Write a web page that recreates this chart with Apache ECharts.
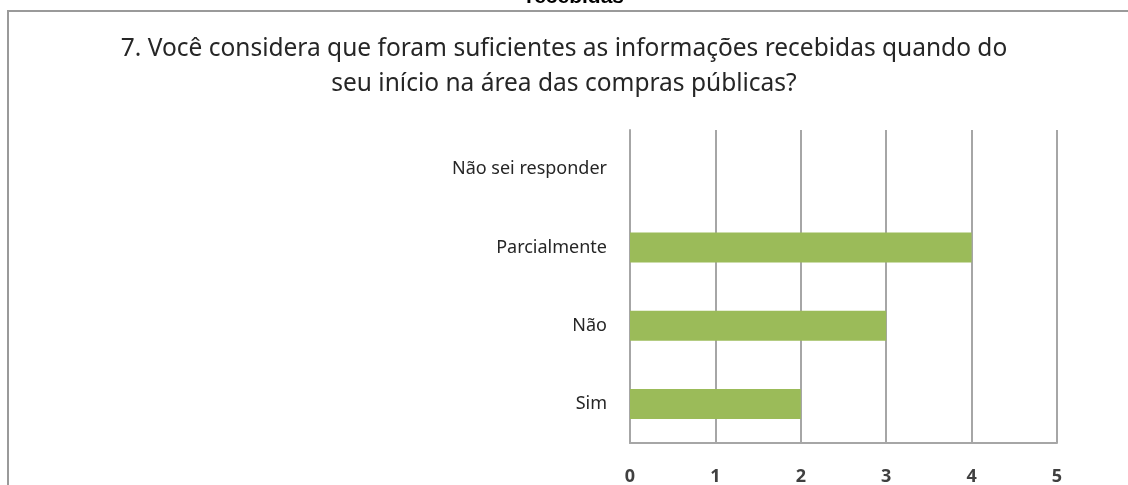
<!DOCTYPE html>
<html>
<head>
<meta charset="utf-8">
<script src="https://cdn.jsdelivr.net/npm/echarts@6/dist/echarts.min.js"></script>
<style>
  html, body { margin: 0; padding: 0; background: #fff; }
  #chart { width: 1128px; height: 485px; }
</style>
</head>
<body>
<div id="chart"></div>
<script>
  // dados
  var categorias = ['Sim', 'Não', 'Parcialmente', 'Não sei responder'];
  var respostas = [2, 3, 4, 0];
  var ticksX = [0, 1, 2, 3, 4, 5];
  var titulo = '7. Você considera que foram suficientes as informações recebidas quando do\nseu início na área das compras públicas?';
  var tituloAnterior = 'recebidas';

  var myChart = echarts.init(document.getElementById('chart'));
  var cinza = '#a6a6a6';

  var option = {
    backgroundColor: '#fff',
    animation: false,
    title: {
      text: titulo,
      left: 'center',
      top: 27,
      textStyle: {
        fontFamily: 'Noto Sans',
        fontSize: 24.5,
        fontWeight: 'normal',
        lineHeight: 35,
        color: '#262626'
      }
    },
    graphic: [
      // moldura cortada (linha superior e esquerda)
      { type: 'line', shape: { x1: 8, y1: 11, x2: 1128, y2: 11 }, style: { stroke: '#9a9a9a', lineWidth: 2 } },
      { type: 'line', shape: { x1: 8, y1: 10, x2: 8, y2: 485 }, style: { stroke: '#9a9a9a', lineWidth: 2 } },
      {
        type: 'text', x: 575, y: 8,
        style: {
          text: tituloAnterior, textAlign: 'center', textVerticalAlign: 'bottom',
          fontFamily: 'Liberation Sans', fontWeight: 'bold', fontSize: 21, fill: '#000'
        }
      }
    ],
    grid: { left: 630, right: 71, top: 130, bottom: 42, outerBoundsMode: 'none', containLabel: false },
    xAxis: {
      type: 'value',
      min: ticksX[0],
      max: ticksX[ticksX.length - 1],
      interval: 1,
      axisLine: { show: true, lineStyle: { color: cinza, width: 2 } },
      axisTick: { show: false },
      splitLine: { show: true, lineStyle: { color: cinza, width: 2 } },
      axisLabel: {
        margin: 25,
        fontFamily: 'Noto Sans',
        fontSize: 18,
        fontWeight: 'bold',
        color: '#404040'
      }
    },
    yAxis: {
      type: 'category',
      data: categorias,
      axisLine: { show: true, lineStyle: { color: cinza, width: 2 } },
      axisTick: { show: false },
      axisLabel: {
        margin: 23,
        fontFamily: 'Noto Sans',
        fontSize: 18,
        color: '#262626'
      }
    },
    series: [{
      type: 'bar',
      data: respostas,
      barWidth: 30,
      itemStyle: { color: '#9bbb59' }
    }]
  };
  myChart.setOption(option);
</script>
</body>
</html>
